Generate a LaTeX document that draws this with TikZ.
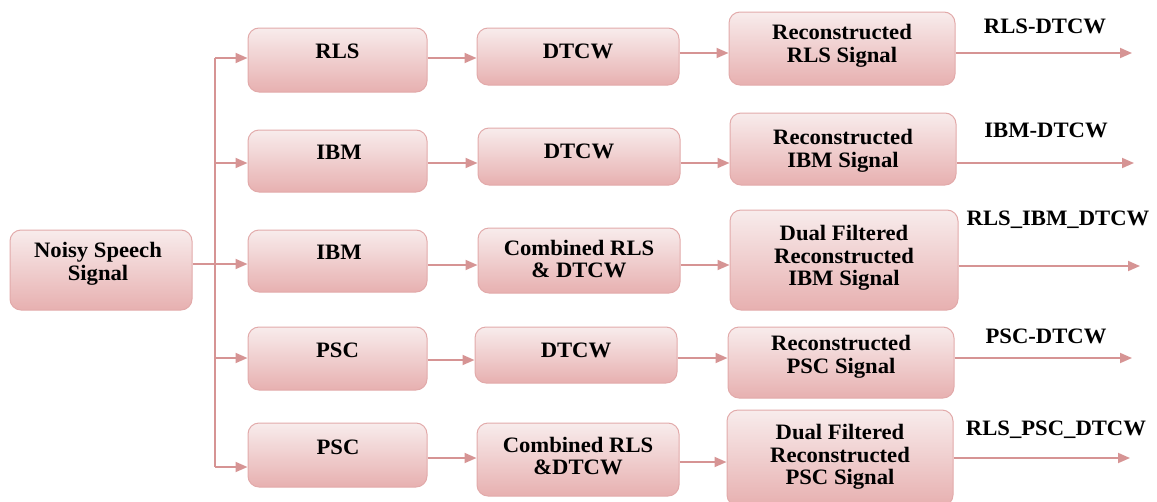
\documentclass[tikz,border=0pt]{standalone}
\usepackage{fontspec}
\setmainfont{Liberation Serif}[FakeStretch=1.03]
\usetikzlibrary{arrows.meta}
\definecolor{boxline}{RGB}{226,170,170}
\definecolor{boxtop}{RGB}{248,236,236}
\definecolor{boxmid}{RGB}{253,249,249}
\definecolor{boxbot}{RGB}{231,176,176}
\definecolor{arrcol}{RGB}{214,148,148}
\tikzset{
  box/.style={draw=boxline, line width=1pt, rounded corners=11pt,
    top color=boxtop, middle color=boxmid, bottom color=boxbot, inner sep=0pt},
  txt/.style={align=center, inner sep=0pt, font=\bfseries\fontsize{22}{22.5}\selectfont},
  conn/.style={draw=arrcol, line width=1.8pt},
  arr/.style={conn, -{Triangle[length=12pt,width=10pt]}},
}
\begin{document}
\begin{tikzpicture}[x=1pt,y=-1pt]
\useasboundingbox (0,0) rectangle (1157,501);
% source
\node[box, minimum width=182, minimum height=80] (noisy) at (101,270) {};
\node[txt] (noisyt) at (98,264) {Noisy Speech\\Signal};
% column 1
\node[box, minimum width=179, minimum height=64] (a1) at (337.5,60) {};
\node[box, minimum width=179, minimum height=62] (a2) at (337.5,161) {};
\node[box, minimum width=179, minimum height=62] (a3) at (337.5,261) {};
\node[box, minimum width=179, minimum height=63] (a4) at (337.5,358.5) {};
\node[box, minimum width=179, minimum height=64] (a5) at (337.5,455) {};
\node[txt] (a1t) at (337.5,51) {RLS};
\node[txt] (a2t) at (339,152) {IBM};
\node[txt] (a3t) at (339,252) {IBM};
\node[txt] (a4t) at (337.5,350) {PSC};
\node[txt] (a5t) at (338,447) {PSC};
% column 2
\node[box, minimum width=202, minimum height=57] (b1) at (578,56.5) {};
\node[box, minimum width=202, minimum height=57] (b2) at (579,156.5) {};
\node[box, minimum width=202, minimum height=65] (b3) at (579,260.5) {};
\node[box, minimum width=202, minimum height=56] (b4) at (576,355) {};
\node[box, minimum width=202, minimum height=73] (b5) at (578,459.5) {};
\node[txt] (b1t) at (578,51) {DTCW};
\node[txt] (b2t) at (579,151) {DTCW};
\node[txt] (b3t) at (579,259) {Combined RLS\\\& DTCW};
\node[txt] (b4t) at (576,350) {DTCW};
\node[txt] (b5t) at (578,456) {Combined RLS\\\&DTCW};
% column 3
\node[box, minimum width=226, minimum height=73] (c1) at (842,48.5) {};
\node[box, minimum width=226, minimum height=72] (c2) at (843,149) {};
\node[box, minimum width=228, minimum height=100] (c3) at (844,260) {};
\node[box, minimum width=226, minimum height=71] (c4) at (841,362.5) {};
\node[box, minimum width=226, minimum height=96] (c5) at (840,458) {};
\node[txt] (c1t) at (842,46) {Reconstructed\\RLS Signal};
\node[txt] (c2t) at (843,151) {Reconstructed\\IBM Signal};
\node[txt] (c3t) at (844,258) {Dual Filtered\\Reconstructed\\IBM Signal};
\node[txt] (c4t) at (841,357) {Reconstructed\\PSC Signal};
\node[txt] (c5t) at (840,457) {Dual Filtered\\Reconstructed\\PSC Signal};
% output labels
\node[txt] (l1) at (1045,26) {RLS-DTCW};
\node[txt] (l2) at (1046,130) {IBM-DTCW};
\node[txt] (l3) at (1058,220) {RLS\_IBM\_DTCW};
\node[txt] (l4) at (1046,336) {PSC-DTCW};
\node[txt] (l5) at (1056,430) {RLS\_PSC\_DTCW};
% fan-out
\coordinate (f1) at (215,58);
\coordinate (f2) at (215,163);
\coordinate (f3) at (215,264);
\coordinate (f4) at (215,358);
\coordinate (f5) at (215,467);
\draw[conn] (f1) -- (f5);
\draw[conn] (noisy.east |- f3) -- (f3);
\draw[arr] (f1) -- (a1.west |- f1);
\draw[arr] (f2) -- (a2.west |- f2);
\draw[arr] (f3) -- (a3.west |- f3);
\draw[arr] (f4) -- (a4.west |- f4);
\draw[arr] (f5) -- (a5.west |- f5);
% column 1 -> column 2
\coordinate (g1) at (450,58);
\coordinate (g2) at (450,163);
\coordinate (g3) at (450,265);
\coordinate (g4) at (450,360);
\coordinate (g5) at (450,458);
\draw[arr] (a1.east |- g1) -- (b1.west |- g1);
\draw[arr] (a2.east |- g2) -- (b2.west |- g2);
\draw[arr] (a3.east |- g3) -- (b3.west |- g3);
\draw[arr] (a4.east |- g4) -- (b4.west |- g4);
\draw[arr] (a5.east |- g5) -- (b5.west |- g5);
% column 2 -> column 3
\coordinate (h1) at (700,53);
\coordinate (h2) at (700,163);
\coordinate (h3) at (700,265);
\coordinate (h4) at (700,358);
\coordinate (h5) at (700,462);
\draw[arr] (b1.east |- h1) -- (c1.west |- h1);
\draw[arr] (b2.east |- h2) -- (c2.west |- h2);
\draw[arr] (b3.east |- h3) -- (c3.west |- h3);
\draw[arr] (b4.east |- h4) -- (c4.west |- h4);
\draw[arr] (b5.east |- h5) -- (c5.west |- h5);
% outputs
\coordinate (o1) at (1132,53);
\coordinate (o2) at (1134,163);
\coordinate (o3) at (1140,266);
\coordinate (o4) at (1132,358);
\coordinate (o5) at (1130,458);
\draw[arr] (c1.east |- o1) -- (o1);
\draw[arr] (c2.east |- o2) -- (o2);
\draw[arr] (c3.east |- o3) -- (o3);
\draw[arr] (c4.east |- o4) -- (o4);
\draw[arr] (c5.east |- o5) -- (o5);
\end{tikzpicture}
\end{document}
